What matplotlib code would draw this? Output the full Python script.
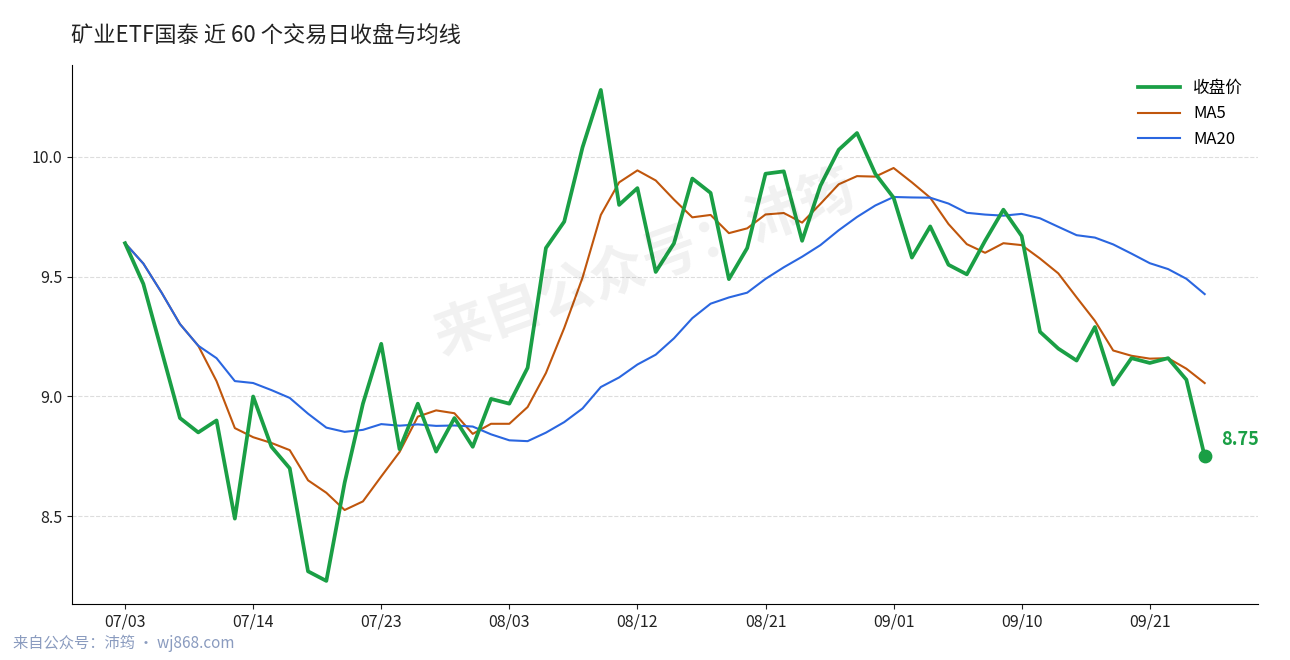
import matplotlib
matplotlib.use("Agg")
import matplotlib.pyplot as plt
import numpy as np
import pandas as pd

plt.rcParams['font.family'] = ['Noto Sans CJK SC', 'DejaVu Sans']

close = [9.64,9.47,9.19,8.91,8.85,8.90,8.49,9.00,8.79,8.70,
         8.27,8.23,8.64,8.97,9.22,8.78,8.97,8.77,8.91,8.79,
         8.99,8.97,9.12,9.62,9.73,10.04,10.28,9.80,9.87,9.52,
         9.64,9.91,9.85,9.49,9.62,9.93,9.94,9.65,9.88,10.03,
         10.10,9.93,9.83,9.58,9.71,9.55,9.51,9.65,9.78,9.67,
         9.27,9.20,9.15,9.29,9.05,9.16,9.14,9.16,9.07,8.75]
tick_idx = [0,7,14,21,28,35,42,49,56]
tick_labels = ["07/03","07/14","07/23","08/03","08/12","08/21","09/01","09/10","09/21"]

s = pd.Series(close)
ma5 = s.rolling(5, min_periods=1).mean()
ma20 = s.rolling(20, min_periods=1).mean()
x = np.arange(len(close))

fig = plt.figure(figsize=(12.9, 6.6), dpi=100)
ax = fig.add_axes([0.0558, 0.085, 0.9192, 0.8165])
green = '#1a9f45'
ax.plot(x, close, color=green, lw=2.7, label='收盘价', zorder=4)
ax.plot(x, ma5, color='#c0560c', lw=1.5, label='MA5', zorder=3)
ax.plot(x, ma20, color='#2a66e0', lw=1.5, label='MA20', zorder=3)
ax.scatter([x[-1]], [close[-1]], color=green, s=80, zorder=5)
ax.annotate(f"{close[-1]:.2f}", (x[-1], close[-1]), xytext=(12, 12), textcoords='offset points',
            color=green, fontsize=13, fontweight='bold', va='center')

ax.set_xlim(-2.9, 61.9)
ax.set_ylim(8.134, 10.384)
ax.set_yticks([8.5, 9.0, 9.5, 10.0])
ax.set_yticklabels(['8.5', '9.0', '9.5', '10.0'])
ax.set_xticks(tick_idx)
ax.set_xticklabels(tick_labels)
ax.tick_params(labelsize=11.5, colors='#222222')
ax.grid(axis='y', ls='--', color='#dddddd', lw=0.8)
for sp in ['top', 'right']:
    ax.spines[sp].set_visible(False)
ax.legend(loc='upper right', frameon=False, fontsize=12, handlelength=2.5)

fig.text(0.055, 0.945, '矿业ETF国泰 近 60 个交易日收盘与均线', fontsize=16, color='#222222', va='center')
fig.text(0.5, 0.6, '来自公众号：沛筠', fontsize=40, color='#000000', alpha=0.06,
         rotation=20, ha='center', va='center', fontweight='bold')
fig.text(0.01, 0.018, '来自公众号：沛筠 · wj868.com', fontsize=11, color='#8a9bbf')

fig.savefig('out.png', dpi=100)
